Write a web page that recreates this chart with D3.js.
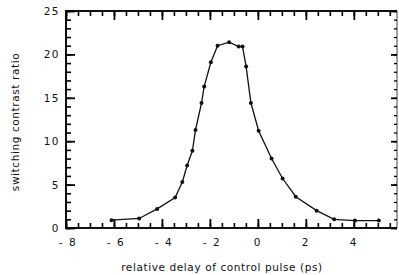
<!DOCTYPE html>
<html>
<head>
<meta charset="utf-8">
<script src="https://cdn.jsdelivr.net/npm/d3@7"></script>
<style>
  body { margin: 0; background: #fff; }
  svg { display: block; }
  .lbl { font-family: "DejaVu Sans", sans-serif; font-size: 10.5px; fill: #111; }
</style>
</head>
<body>
<div id="chart"></div>
<script>
// delay (ps) vs switching contrast ratio
const delay = [-6.1, -4.95, -4.2, -3.45, -3.15, -2.95, -2.73, -2.6, -2.35, -2.24, -1.96, -1.68,
  -1.2, -0.8, -0.64, -0.49, -0.29, 0.03, 0.57, 1.03, 1.58, 2.45, 3.18, 4.05, 5.04];
const ratio = [0.9, 1.1, 2.2, 3.5, 5.3, 7.2, 8.9, 11.3, 14.4, 16.3, 19.1, 21.0,
  21.4, 20.9, 20.9, 18.6, 14.4, 11.2, 8.0, 5.7, 3.6, 2.0, 1.0, 0.85, 0.85];
const xTicks = [-8, -6, -4, -2, 0, 2, 4];
const yTicks = [0, 5, 10, 15, 20, 25];

const width = 399, height = 275;
const margin = { left: 66, right: 2, top: 11, bottom: 47 };

const points = delay.map((d, i) => ({ x: d, y: ratio[i] }));

let xScale = d3.scaleLinear().domain([-8, 5.8]).range([margin.left, width - margin.right]);
let yScale = d3.scaleLinear().domain([0, 25]).range([height - margin.bottom, margin.top]);

let svg = d3.select('#chart').append('svg')
  .attr('width', width)
  .attr('height', height);

const xMinor = d3.range(-8, 5.81, 0.5);
const yMinor = d3.range(0, 25.01, 1);
const x0 = xScale(-8), x1 = xScale(5.8), y0 = yScale(0), y1 = yScale(25);

function fmtX(v) { return v < 0 ? '- ' + Math.abs(v) : String(v); }

/* frame: thick left, bottom, top; thin right */
svg.append('path')
  .attr('d', `M${x1},${y1}H${x0}V${y0}H${x1}`)
  .attr('fill', 'none').attr('stroke', '#111').attr('stroke-width', 2);
svg.append('path')
  .attr('d', `M${x1},${y1}V${y0}`)
  .attr('fill', 'none').attr('stroke', '#444').attr('stroke-width', 1);

/* axes with inward ticks (labels drawn separately) */
function tidy(g, w) {
  g.select('.domain').remove();
  g.selectAll('.tick text').remove();
  g.selectAll('.tick line')
    .attr('stroke', '#000')
    .style('stroke', '#000')
    .style('stroke-width', w + 'px');
}
const axes = [
  [d3.axisBottom(xScale).tickValues(xMinor).tickSizeInner(-5), `translate(0,${y0})`, 1.6],
  [d3.axisBottom(xScale).tickValues(xTicks).tickSizeInner(-9), `translate(0,${y0})`, 1.8],
  [d3.axisTop(xScale).tickValues(xMinor).tickSizeInner(-5), `translate(0,${y1})`, 1.6],
  [d3.axisTop(xScale).tickValues(xTicks).tickSizeInner(-9), `translate(0,${y1})`, 1.8],
  [d3.axisLeft(yScale).tickValues(yMinor).tickSizeInner(-5), `translate(${x0},0)`, 1.6],
  [d3.axisLeft(yScale).tickValues(yTicks).tickSizeInner(-9), `translate(${x0},0)`, 1.8],
  [d3.axisRight(yScale).tickValues(yMinor).tickSizeInner(-3), `translate(${x1},0)`, 1.3],
  [d3.axisRight(yScale).tickValues(yTicks).tickSizeInner(-6), `translate(${x1},0)`, 1.8]
];
axes.forEach(([ax, tr, w]) => {
  svg.append('g')
    .attr('transform', tr)
    .call(ax.tickSizeOuter(0))
    .call(g => tidy(g, w));
});

/* tick labels */
svg.selectAll('text.xl').data(xTicks).join('text')
  .attr('class', 'lbl xl')
  .attr('x', d => xScale(d) + (d < 0 ? 2 : 0))
  .attr('y', y0 + 18)
  .attr('text-anchor', 'middle')
  .style('letter-spacing', '1.5px')
  .text(fmtX);
svg.selectAll('text.yl').data(yTicks).join('text')
  .attr('class', 'lbl yl')
  .attr('x', x0 - 6)
  .attr('y', d => yScale(d) + 4)
  .attr('text-anchor', 'end')
  .style('letter-spacing', '1.5px')
  .text(d => d);

/* curve */
let lineGen = d3.line().x(d => xScale(d.x)).y(d => yScale(d.y));
svg.append('path')
  .datum(points)
  .attr('d', lineGen)
  .attr('fill', 'none')
  .attr('stroke', '#111')
  .attr('stroke-width', 1.3);

svg.selectAll('circle.dot')
  .data(points)
  .join('circle')
  .attr('class', 'dot')
  .attr('cx', d => xScale(d.x))
  .attr('cy', d => yScale(d.y))
  .attr('r', 2)
  .attr('fill', '#111');

/* axis titles */
svg.append('text')
  .attr('class', 'lbl')
  .attr('x', 222).attr('y', 271)
  .attr('text-anchor', 'middle')
  .style('letter-spacing', '0.6px')
  .text('relative delay of control pulse (ps)');

svg.append('text')
  .attr('class', 'lbl')
  .attr('transform', 'translate(19,122) rotate(-90)')
  .attr('text-anchor', 'middle')
  .style('letter-spacing', '0.6px')
  .text('switching contrast ratio');
</script>
</body>
</html>
